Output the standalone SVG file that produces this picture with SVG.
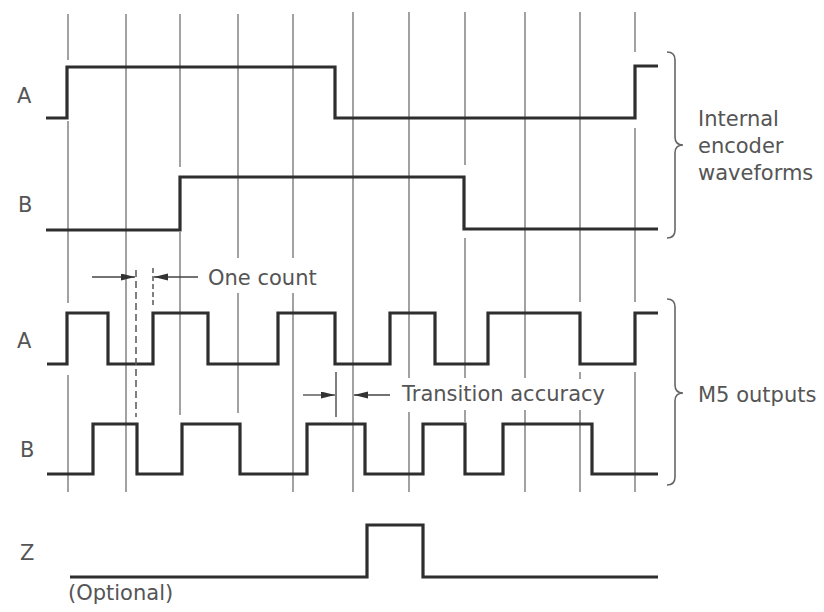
<svg xmlns="http://www.w3.org/2000/svg" width="824" height="612" viewBox="0 0 824 612">
<defs>
<style>
.grid line{stroke:#7a7a7a;stroke-width:1.4;fill:none}
.wave{stroke:#2e2e2e;stroke-width:3.2;fill:none;stroke-linejoin:miter;stroke-linecap:butt}
.brace{stroke:#666;stroke-width:1.6;fill:none}
.arr{stroke:#444;stroke-width:1.3;fill:none}
.dash{stroke:#555;stroke-width:1.5;fill:none}
text{font-family:"DejaVu Sans","Liberation Sans",sans-serif;font-size:21px;fill:#555}
</style>
<marker id="ah" markerUnits="userSpaceOnUse" markerWidth="15" markerHeight="8" refX="14" refY="3.5" orient="auto">
<path d="M0,0 L14,3.5 L0,7 z" fill="#333"/>
</marker>
</defs>
<rect width="824" height="612" fill="#ffffff"/>
<g id="grid" class="grid">
<line x1="68" y1="14" x2="68" y2="60"/><line x1="68" y1="121" x2="68" y2="303"/><line x1="68" y1="375" x2="68" y2="492"/>
<line x1="126" y1="14" x2="126" y2="492"/>
<line x1="180" y1="14" x2="180" y2="167"/><line x1="180" y1="232" x2="180" y2="415"/>
<line x1="238" y1="14" x2="238" y2="258"/><line x1="238" y1="293" x2="238" y2="413"/>
<line x1="293" y1="14" x2="293" y2="258"/><line x1="293" y1="293" x2="293" y2="492"/>
<line x1="353" y1="12" x2="353" y2="492"/>
<line x1="409" y1="12" x2="409" y2="378"/><line x1="409" y1="412" x2="409" y2="492"/>
<line x1="465" y1="12" x2="465" y2="165"/><line x1="465" y1="238" x2="465" y2="378"/><line x1="465" y1="410" x2="465" y2="422"/>
<line x1="525" y1="12" x2="525" y2="378"/><line x1="525" y1="410" x2="525" y2="492"/>
<line x1="580" y1="12" x2="580" y2="302"/><line x1="580" y1="372" x2="580" y2="379"/><line x1="580" y1="410" x2="580" y2="492"/>
<line x1="635" y1="12" x2="635" y2="52"/><line x1="635" y1="128" x2="635" y2="302"/><line x1="635" y1="372" x2="635" y2="492"/>
</g>
<g id="waveforms">
<path id="int-a" class="wave" d="M46 118 H67 V67 H335 V118 H635 V66 H658"/>
<path id="int-b" class="wave" d="M46 230 H180 V177 H464 V229 H658"/>
<path id="m5-a" class="wave" d="M47 364 H67 V313 H108 V364 H153 V313 H208 V364 H278 V313 H335 V364 H390 V313 H435 V364 H488 V313 H580 V364 H635 V313 H658"/>
<path id="m5-b" class="wave" d="M47 474 H93 V424 H137 V474 H182 V424 H240 V474 H307 V424 H365 V474 H423 V424 H465 V474 H503 V424 H592 V474 H658"/>
<path id="z" class="wave" d="M70 577 H367 V525 H423 V577 H658"/>
</g>
<g id="brackets">
<path id="brace-internal" class="brace" d="M667 52 Q675 52 675 60 V137 Q675 145 683 145 Q675 145 675 153 V230 Q675 238 667 238"/>
<path id="brace-m5" class="brace" d="M667 299 Q675 299 675 307 V385 Q675 393 683 393 Q675 393 675 401 V477 Q675 485 667 485"/>
</g>
<g id="connectors">
<line class="dash" x1="136" y1="270" x2="136" y2="417" stroke-dasharray="7 4"/>
<line class="dash" x1="153" y1="268" x2="153" y2="306" stroke-dasharray="5 3" stroke-width="1.2"/>
<line class="dash" x1="336" y1="372" x2="336" y2="417" stroke-width="1.2"/>
<line class="arr" x1="92" y1="277" x2="135" y2="277" marker-end="url(#ah)"/>
<line class="arr" x1="198" y1="277" x2="154" y2="277" marker-end="url(#ah)"/>
<line class="arr" x1="303" y1="395" x2="335" y2="395" marker-end="url(#ah)"/>
<line class="arr" x1="390" y1="395" x2="354" y2="395" marker-end="url(#ah)"/>
</g>
<g id="labels">
<text x="17" y="103">A</text>
<text x="18" y="212">B</text>
<text x="17" y="348">A</text>
<text x="20" y="457">B</text>
<text x="20" y="560">Z</text>
<text x="68" y="600">(Optional)</text>
<text x="208" y="285">One count</text>
<text x="402" y="401">Transition accuracy</text>
<text x="698" y="402">M5 outputs</text>
<text x="698" y="126">Internal</text>
<text x="698" y="153">encoder</text>
<text x="698" y="180">waveforms</text>
</g>
</svg>
